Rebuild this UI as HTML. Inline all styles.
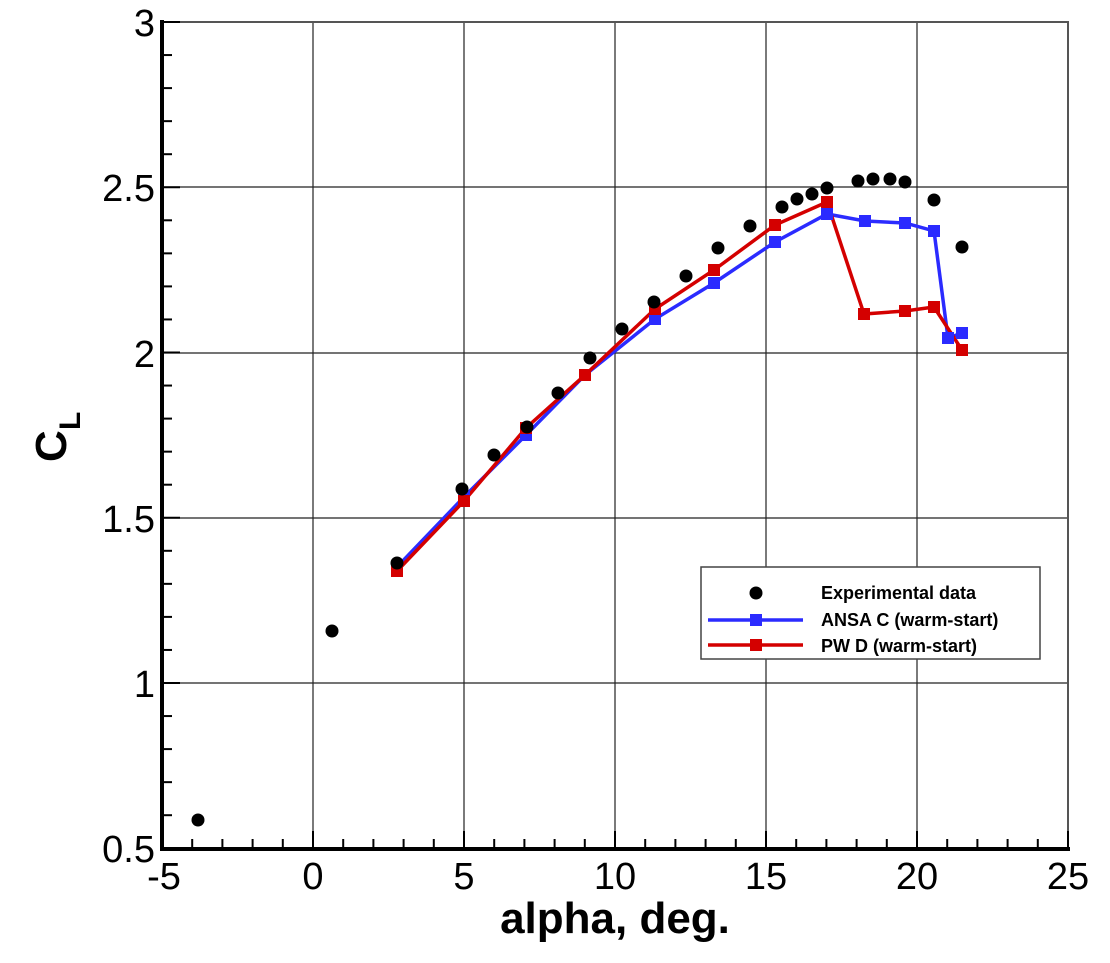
<!DOCTYPE html>
<html><head><style>body{margin:0;background:#fff}svg{display:block}</style></head><body>
<svg width="1110" height="963" xmlns="http://www.w3.org/2000/svg" font-family="Liberation Sans, sans-serif">
<g stroke="#222" stroke-width="1.2">
<line x1="313" y1="22" x2="313" y2="849"/><line x1="464" y1="22" x2="464" y2="849"/><line x1="615" y1="22" x2="615" y2="849"/><line x1="766" y1="22" x2="766" y2="849"/><line x1="917" y1="22" x2="917" y2="849"/>
<line x1="162" y1="187" x2="1068" y2="187"/><line x1="162" y1="353" x2="1068" y2="353"/><line x1="162" y1="518" x2="1068" y2="518"/><line x1="162" y1="683" x2="1068" y2="683"/>
</g>
<rect x="162" y="22" width="906" height="827" fill="none" stroke="#555" stroke-width="2"/>
<g stroke="#000" stroke-width="2" id="ticks"></g>
<line x1="162" y1="20" x2="162" y2="851" stroke="#000" stroke-width="4"/>
<line x1="160" y1="849" x2="1070" y2="849" stroke="#000" stroke-width="4"/>
<g font-size="38" fill="#000">
<text x="155" y="36" text-anchor="end">3</text>
<text x="155" y="201" text-anchor="end">2.5</text>
<text x="155" y="367" text-anchor="end">2</text>
<text x="155" y="532" text-anchor="end">1.5</text>
<text x="155" y="697" text-anchor="end">1</text>
<text x="155" y="862" text-anchor="end">0.5</text>
<text x="164" y="889" text-anchor="middle">-5</text>
<text x="313" y="889" text-anchor="middle">0</text>
<text x="464" y="889" text-anchor="middle">5</text>
<text x="615" y="889" text-anchor="middle">10</text>
<text x="766" y="889" text-anchor="middle">15</text>
<text x="917" y="889" text-anchor="middle">20</text>
<text x="1068" y="889" text-anchor="middle">25</text>
</g>
<text x="615" y="933" text-anchor="middle" font-size="44" font-weight="bold">alpha, deg.</text>
<g transform="translate(66,462) rotate(-90)" font-weight="bold"><text x="0" y="0" font-size="44">C</text><text x="32" y="14" font-size="30">L</text></g>
<polyline fill="none" stroke="#2b2bff" stroke-width="3.5" points="397,567 464,497 526,435 585,375 655,319 714,283 775,242 827,214 865,221 905,223 934,231 948,338 962,333"/>
<polyline fill="none" stroke="#d40000" stroke-width="3.5" points="397,571 464,501 526,428 585,375 655,309 714,270 775,225 827,202 864,314 905,311 934,307 962,350"/>
<g fill="#2b2bff" id="bm"></g><g fill="#d40000" id="rm"></g>
<g fill="#000" id="ex"></g>
<rect x="701" y="567" width="339" height="92" fill="#fff" stroke="#444" stroke-width="1.5"/>
<circle cx="756" cy="593" r="6.5" fill="#000"/>
<line x1="708" y1="620" x2="803" y2="620" stroke="#2b2bff" stroke-width="3.5"/><rect x="750" y="614" width="12" height="12" fill="#2b2bff"/>
<line x1="708" y1="645" x2="803" y2="645" stroke="#d40000" stroke-width="3.5"/><rect x="750" y="639" width="12" height="12" fill="#d40000"/>
<g font-size="18" font-weight="bold"><text x="821" y="599">Experimental data</text><text x="821" y="626">ANSA C (warm-start)</text><text x="821" y="652">PW D (warm-start)</text></g>
<script>
var ns="http://www.w3.org/2000/svg";
function el(p,t,a){var e=document.createElementNS(ns,t);for(var k in a)e.setAttribute(k,a[k]);document.getElementById(p).appendChild(e);}
for(var v=-5;v<=25;v++){var x=313+v*30.2;var L=(v%5==0)?18:10;el("ticks","line",{x1:x,y1:849,x2:x,y2:849-L});}
for(var i=0;i<=25;i++){var y=22+i*33.05;var L=(i%5==0)?18:10;el("ticks","line",{x1:162,y1:y,x2:162+L,y2:y});}
[[397,567],[464,497],[526,435],[585,375],[655,319],[714,283],[775,242],[827,214],[865,221],[905,223],[934,231],[948,338],[962,333]].forEach(function(p){el("bm","rect",{x:p[0]-6,y:p[1]-6,width:12,height:12});});
[[397,571],[464,501],[526,428],[585,375],[655,309],[714,270],[775,225],[827,202],[864,314],[905,311],[934,307],[962,350]].forEach(function(p){el("rm","rect",{x:p[0]-6,y:p[1]-6,width:12,height:12});});
[[198,820],[332,631],[397,563],[462,489],[494,455],[527,427],[558,393],[590,358],[622,329],[654,302],[686,276],[718,248],[750,226],[782,207],[797,199],[812,194],[827,188],[858,181],[873,179],[890,179],[905,182],[934,200],[962,247]].forEach(function(p){el("ex","circle",{cx:p[0],cy:p[1],r:6.5});});
</script>
</svg>
</body></html>
